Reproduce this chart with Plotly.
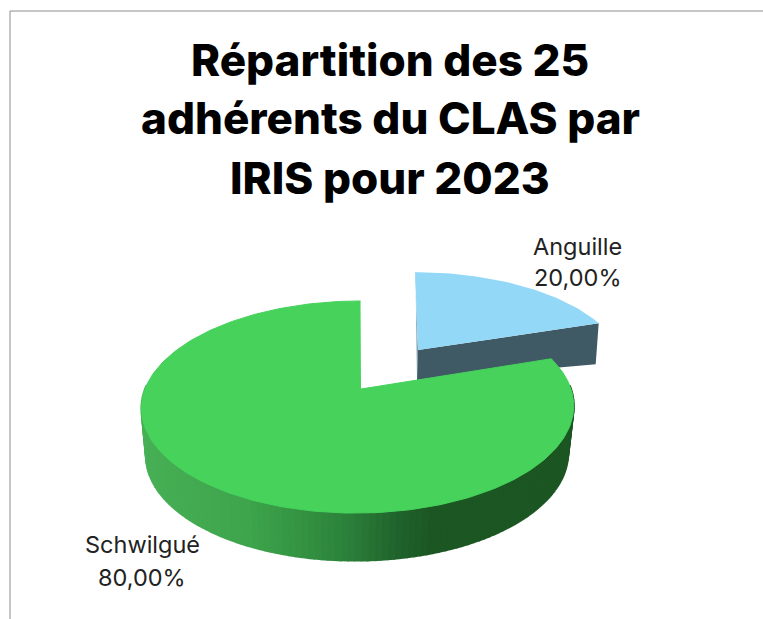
import numpy as np
import plotly.graph_objects as go

categories = ["Anguille", "Schwilgué"]
members = [5, 20]
title_lines = ["Répartition des 25", "adhérents du CLAS par", "IRIS pour 2023"]

W, H = 763, 619
TOP_COLORS = {"Anguille": "#93D8F7", "Schwilgué": "#46D25B"}
WALL_BLUE = "#3F5965"
P = 0.17
TITLE_FONT = "Inter"
LABEL_FONT = "Inter"

shares = np.array(members, dtype=float) / sum(members)
edges = np.concatenate([[0.0], np.cumsum(shares)]) * 2 * np.pi
a0, a1 = edges[0], edges[1]   # Anguille
b0, b1 = edges[1], edges[2]   # Schwilgué


def rim(theta, cx, skew, a, cy, b, drop=0.0):
    u, v = np.sin(theta), np.cos(theta)
    d = 1 + P * v
    return cx + skew * v + a * u / d, cy - b * v / d + drop


def poly(fig, xs, ys, color, name, line=0.0):
    fig.add_trace(go.Scatter(
        x=list(xs), y=list(ys), mode="lines", fill="toself", fillcolor=color,
        line=dict(color=color, width=line), hoverinfo="text", text=name,
        showlegend=False))


fig = go.Figure()

# Anguille (pulled out of the pie)
label = f"{categories[0]} {shares[0]*100:.2f}%".replace(".", ",")
t = np.linspace(a0, a1, 50)
ax, ay = 418, 350
rx, ry = rim(t, 418, -3, 201, 350, 91)
# thin left face, then front wall, then top
poly(fig, [rx[0], ax, ax - 1, rx[0] + 0.6], [ry[0], ay, ay + 30, ry[0] + 8], "#7E9DAD", label)
poly(fig, [ax, rx[-1], rx[-1] - 3, ax - 1], [ay, ry[-1], ry[-1] + 41, ay + 30], WALL_BLUE, label)
poly(fig, np.r_[ax, rx], np.r_[ay, ry], TOP_COLORS[categories[0]], label)

# Schwilgué wall, shaded across the width
label = f"{categories[1]} {shares[1]*100:.2f}%".replace(".", ",")
stop_x = [145, 250, 300, 349, 400, 430, 570]
stop_r = [72, 62, 52, 44, 32, 28, 28]
stop_g = [176, 165, 148, 128, 98, 88, 86]
stop_b = [86, 76, 66, 58, 44, 36, 35]
wall_t = np.linspace(np.radians(88), np.radians(272), 121)
for i in range(len(wall_t) - 1):
    seg = np.linspace(wall_t[i], wall_t[i + 1], 3)
    xt, yt = rim(seg, 358, 2.5, 213, 389, 103)
    xb, yb = rim(seg, 357.5, 2.5, 208, 389, 103, drop=47.5)
    xm = (xt.mean() + xb.mean()) / 2
    col = "rgb(%d,%d,%d)" % (np.interp(xm, stop_x, stop_r),
                             np.interp(xm, stop_x, stop_g),
                             np.interp(xm, stop_x, stop_b))
    poly(fig, np.r_[xt, xb[::-1]], np.r_[yt, yb[::-1]], col, label, line=2)

# Schwilgué top
t = np.linspace(b0, b1, 240)
rx, ry = rim(t, 358, 2.5, 213, 389, 103)
poly(fig, np.r_[361, rx], np.r_[389, ry], TOP_COLORS[categories[1]], label, line=1)

annotations = []
for line, y in zip(title_lines, [60, 118, 178]):
    annotations.append(dict(x=390, y=y, text=line, showarrow=False,
                            xanchor="center", yanchor="middle",
                            font=dict(family=TITLE_FONT, size=44, weight=800, color="#000000")))
label_pos = {"Anguille": (577, 246, 277), "Schwilgué": (142, 544, 577)}
for name, share in zip(categories, shares):
    x, y1, y2 = label_pos[name]
    annotations.append(dict(x=x, y=y1, text=name, showarrow=False, xanchor="center", yanchor="middle",
                            font=dict(family=LABEL_FONT, size=23.5, color="#222222")))
    annotations.append(dict(x=x, y=y2, text=f"{share*100:.2f}%".replace(".", ","), showarrow=False,
                            xanchor="center", yanchor="middle",
                            font=dict(family=LABEL_FONT, size=23.5, color="#222222")))

fig.update_layout(
    width=W, height=H, margin=dict(l=0, r=0, t=0, b=0),
    paper_bgcolor="white", plot_bgcolor="white", showlegend=False,
    xaxis=dict(range=[0, W], visible=False, fixedrange=True),
    yaxis=dict(range=[H, 0], visible=False, fixedrange=True),
    annotations=annotations,
    shapes=[dict(type="line", x0=10, x1=W, y0=11, y1=11, line=dict(color="#8C8C8C", width=1)),
            dict(type="line", x0=10, x1=10, y0=11, y1=H, line=dict(color="#8C8C8C", width=1))],
)
fig.write_html("out.html", config={"displayModeBar": False},
               post_script="document.body.style.margin='0';document.documentElement.style.overflow='hidden';")
